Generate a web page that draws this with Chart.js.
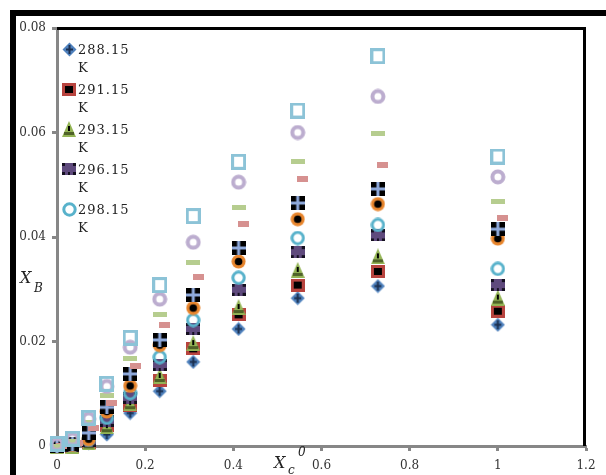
<!DOCTYPE html>
<html><head><meta charset="utf-8">
<script src="https://cdn.jsdelivr.net/npm/chart.js@4"></script>
<style>html,body{margin:0;padding:0;background:#fff;}canvas{display:block;}</style>
</head><body>
<canvas id="c" width="606" height="475"></canvas>
<script>
// ---- data ----
const xValues     = [0, 0.035, 0.072, 0.113, 0.166, 0.233, 0.309, 0.412, 0.546, 0.728, 1.0];
const xValuesPink = [0.011, 0.046, 0.083, 0.124, 0.177, 0.244, 0.320, 0.423, 0.557, 0.739, 1.011];
const xTickLabels = ['0', '0.2', '0.4', '0.6', '0.8', '1', '1.2'];
const yTickLabels = ['0', '0.02', '0.04', '0.06', '0.08'];
const legendNames = ['288.15', '291.15', '293.15', '296.15', '298.15'];

const s288 = [0, 0, 0.0005, 0.0022, 0.0063, 0.0105, 0.0161, 0.0224, 0.0283, 0.0306, 0.0232];
const s291 = [0, 0, 0.0007, 0.0040, 0.0078, 0.0126, 0.0186, 0.0251, 0.0308, 0.0334, 0.0258];
const s293 = [0, 0, 0.0007, 0.0038, 0.0082, 0.0134, 0.0197, 0.0266, 0.0337, 0.0363, 0.0284];
const s296 = [0, 0, 0.0009, 0.0048, 0.0092, 0.0155, 0.0224, 0.0299, 0.0371, 0.0403, 0.0308];
const s298 = [0, 0.0002, 0.0012, 0.0054, 0.0101, 0.0170, 0.0241, 0.0322, 0.0398, 0.0423, 0.0339];
const sOrange = [0, 0.0002, 0.0013, 0.0066, 0.0115, 0.0193, 0.0264, 0.0353, 0.0434, 0.0463, 0.0397];
const sBlackCross = [0, 0.0004, 0.0025, 0.0074, 0.0138, 0.0203, 0.0289, 0.0379, 0.0465, 0.0492, 0.0415];
const sPink = [0, 0.0006, 0.0035, 0.0083, 0.0153, 0.0232, 0.0324, 0.0424, 0.0511, 0.0538, 0.0436];
const sLightGreen = [0, 0.0008, 0.0045, 0.0097, 0.0167, 0.0251, 0.0352, 0.0456, 0.0544, 0.0599, 0.0467];
const sLavender = [0.0003, 0.0013, 0.0052, 0.0114, 0.0189, 0.0281, 0.0390, 0.0505, 0.0600, 0.0669, 0.0515];
const sLightBlue = [0.0004, 0.0014, 0.0054, 0.0119, 0.0207, 0.0308, 0.0440, 0.0544, 0.0642, 0.0746, 0.0554];

// ---- marker images ----
function mk(w, h, draw) { const c = document.createElement('canvas'); c.width = w; c.height = h; draw(c.getContext('2d'), w, h); return c; }
const mBlue = mk(15, 15, g => {
  g.fillStyle = '#4F81BD'; g.beginPath(); g.moveTo(7.5, 0.5); g.lineTo(14.5, 7.5); g.lineTo(7.5, 14.5); g.lineTo(0.5, 7.5); g.closePath(); g.fill();
  g.fillStyle = '#1B2F4E'; g.fillRect(6.5, 3, 2, 9); g.fillRect(4, 6.5, 7, 2);
});
const mRed = mk(14, 13, g => { g.fillStyle = '#B8443F'; g.fillRect(0, 0, 14, 13); g.fillStyle = '#000'; g.fillRect(3, 3, 8, 7); });
const mGreen = mk(14, 16, g => {
  g.fillStyle = '#93B455'; g.beginPath(); g.moveTo(7, 0); g.lineTo(14, 16); g.lineTo(0, 16); g.closePath(); g.fill();
  g.fillStyle = '#4F6228'; g.fillRect(2, 11, 10, 3); g.fillStyle = '#000'; g.fillRect(6, 5, 2, 5);
});
const mPurple = mk(14, 12, g => {
  g.fillStyle = '#5F4A7D'; g.fillRect(0, 0, 14, 12); g.fillStyle = '#151020';
  g.fillRect(0, 0, 3, 3); g.fillRect(11, 0, 3, 3); g.fillRect(0, 9, 3, 3); g.fillRect(11, 9, 3, 3); g.fillRect(6, 9, 2, 3);
});
const mTeal = mk(15, 15, g => { g.strokeStyle = '#58B2CB'; g.lineWidth = 3; g.beginPath(); g.arc(7.5, 7.5, 5.7, 0, Math.PI * 2); g.stroke(); });
const mOrange = mk(15, 15, g => {
  g.fillStyle = '#E8862E'; g.beginPath(); g.arc(7.5, 7.5, 7, 0, Math.PI * 2); g.fill();
  g.fillStyle = '#000'; g.beginPath(); g.arc(7.5, 7.5, 3.8, 0, Math.PI * 2); g.fill();
});
const mBlackCross = mk(14, 14, g => { g.fillStyle = '#000'; g.fillRect(0, 0, 14, 14); g.fillStyle = '#8FAADC'; g.fillRect(5.5, 0, 3, 14); g.fillRect(0, 5.5, 14, 3); });
const mPink = mk(11, 6, g => { g.fillStyle = '#D69190'; g.fillRect(0, 0, 11, 6); });
const mLightGreen = mk(14, 5, g => { g.fillStyle = '#B6CD8F'; g.fillRect(0, 0, 14, 5); });
const mLavender = mk(16, 16, g => { g.strokeStyle = '#BCADCF'; g.lineWidth = 4; g.beginPath(); g.arc(8, 8, 5.5, 0, Math.PI * 2); g.stroke(); });
const mLightBlue = mk(15, 16, g => { g.strokeStyle = '#8CC3D7'; g.lineWidth = 3; g.strokeRect(1.5, 1.5, 12, 13); });

const seriesDefs = [
  { label: '288.15 K', xs: xValues, ys: s288, m: mBlue },
  { label: '291.15 K', xs: xValues, ys: s291, m: mRed },
  { label: '293.15 K', xs: xValues, ys: s293, m: mGreen },
  { label: '296.15 K', xs: xValues, ys: s296, m: mPurple },
  { label: '298.15 K', xs: xValues, ys: s298, m: mTeal },
  { label: 'series 6', xs: xValues, ys: sOrange, m: mOrange },
  { label: 'series 7', xs: xValues, ys: sBlackCross, m: mBlackCross },
  { label: 'series 8', xs: xValuesPink, ys: sPink, m: mPink },
  { label: 'series 9', xs: xValues, ys: sLightGreen, m: mLightGreen },
  { label: 'series 10', xs: xValues, ys: sLavender, m: mLavender },
  { label: 'series 11', xs: xValues, ys: sLightBlue, m: mLightBlue }
];
const legendMarkers = [mBlue, mRed, mGreen, mPurple, mTeal];

const datasets = seriesDefs.map((s, i) => ({
  label: s.label,
  data: s.xs.map((x, j) => ({ x: x, y: s.ys[j] })),
  pointStyle: s.m, pointRadius: 7, showLine: false, clip: false,
  order: seriesDefs.length - i
}));

const decor = {
  id: 'decor',
  beforeDraw(chart) {
    const ctx = chart.ctx; ctx.save();
    ctx.fillStyle = '#fff'; ctx.fillRect(0, 0, chart.width, chart.height);
    ctx.fillStyle = '#000'; ctx.fillRect(10, 10, 6, chart.height - 10); ctx.fillRect(10, 10, chart.width - 10, 6);
    ctx.restore();
  },
  beforeDatasetsDraw(chart) {
    const ctx = chart.ctx, a = chart.chartArea; ctx.save();
    ctx.fillStyle = '#000';
    ctx.fillRect(a.left, a.top - 1, a.right - a.left, 3);
    ctx.fillRect(a.right - 3, a.top - 1, 3, a.bottom - a.top + 1);
    ctx.restore();
  },
  afterDraw(chart) {
    const ctx = chart.ctx; ctx.save();
    ctx.fillStyle = '#222'; ctx.textBaseline = 'alphabetic'; ctx.textAlign = 'left';
    try { ctx.letterSpacing = '1px'; } catch (e) {}
    ctx.font = '13px "DejaVu Serif"';
    legendNames.forEach((n, i) => {
      const cy = 49 + i * 40;
      const m = legendMarkers[i];
      ctx.drawImage(m, Math.round(69 - m.width / 2), Math.round(cy - m.height / 2));
      ctx.fillText(n, 78, cy + 5);
      ctx.fillText('K', 78, cy + 23);
    });
    try { ctx.letterSpacing = '0px'; } catch (e) {}
    // axis titles
    ctx.font = 'italic 16px "DejaVu Serif"'; ctx.fillText('X', 20, 283);
    ctx.font = 'italic 12px "DejaVu Serif"'; ctx.fillText('B', 34, 292);
    ctx.font = 'italic 16px "DejaVu Serif"'; ctx.fillText('X', 274, 468);
    ctx.font = 'italic 12px "DejaVu Serif"'; ctx.fillText('c', 288, 474); ctx.fillText('0', 298, 456);
    ctx.restore();
  }
};

const tickFont = { family: 'DejaVu Serif', size: 12 };
new Chart(document.getElementById('c'), {
  type: 'scatter',
  data: { datasets },
  options: {
    responsive: false, animation: false, devicePixelRatio: 1,
    layout: { padding: { left: 0, top: 28, right: 20, bottom: 0 } },
    plugins: { legend: { display: false }, tooltip: { enabled: false } },
    scales: {
      x: {
        type: 'linear', min: 0, max: 1.2,
        ticks: { stepSize: 0.2, padding: 8, color: '#333', font: tickFont, maxRotation: 0, callback: (v, i) => xTickLabels[i] },
        grid: { drawOnChartArea: false, drawTicks: true, tickLength: 5, tickWidth: 3, tickColor: '#878787' },
        border: { display: true, color: '#878787', width: 3 },
        afterFit(s) { s.height = 29; }
      },
      y: {
        type: 'linear', min: 0, max: 0.08,
        ticks: { stepSize: 0.02, padding: 6, color: '#333', font: tickFont, callback: (v, i) => yTickLabels[i] },
        grid: { drawOnChartArea: false, drawTicks: true, tickLength: 5, tickWidth: 3, tickColor: '#878787' },
        border: { display: true, color: '#878787', width: 3 },
        afterFit(s) { s.width = 57; }
      }
    }
  },
  plugins: [decor]
});
</script>
</body></html>
